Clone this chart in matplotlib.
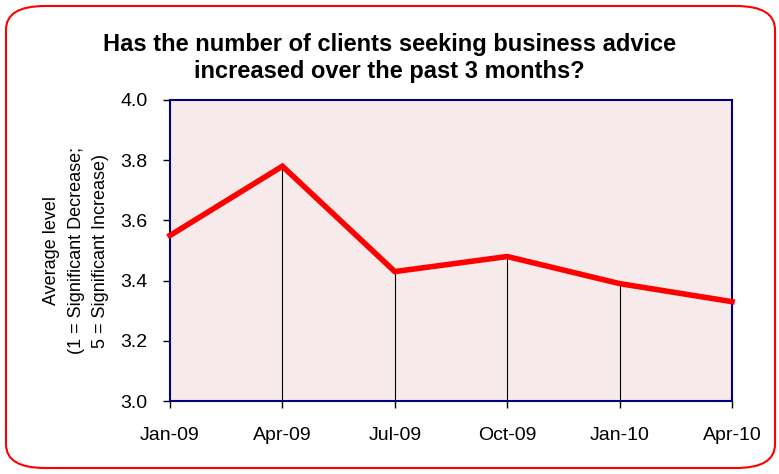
import matplotlib.pyplot as plt
from matplotlib.patches import FancyBboxPatch

plt.rcParams['font.family'] = ['Liberation Sans', 'DejaVu Sans']

# data
months = ["Jan-09", "Apr-09", "Jul-09", "Oct-09", "Jan-10", "Apr-10"]
avg_level = [3.55, 3.78, 3.43, 3.48, 3.39, 3.33]
y_ticks = [3.0, 3.2, 3.4, 3.6, 3.8, 4.0]

fig = plt.figure(figsize=(7.79, 4.74), dpi=100)

# rounded red border round the whole chart
border = FancyBboxPatch((6 / 779, 6 / 474), 769 / 779, 462 / 474,
                        boxstyle="round,pad=0,rounding_size=0.05",
                        transform=fig.transFigure, facecolor="white",
                        edgecolor="#FF0000", linewidth=1.5, zorder=-5)
fig.patches.append(border)

ax = fig.add_axes([170 / 779, 1 - 401 / 474, 562 / 779, 301 / 474])
ax.set_zorder(2)
ax.set_facecolor("#F7EAEA")

x = list(range(len(months)))
ax.vlines(x[1:], 3.0, avg_level[1:], color="black", linewidth=0.8, zorder=2)
ax.plot(x, avg_level, color="#FF0000", linewidth=4, solid_joinstyle="miter", zorder=3, clip_on=False)

ax.set_xlim(0, 5)
ax.set_ylim(3.0, 4.0)
ax.set_xticks(x)
ax.set_xticklabels(months)
ax.set_yticks(y_ticks)
ax.set_yticklabels([f"{v:.1f}" for v in y_ticks])
ax.tick_params(axis="both", labelsize=14, colors="black", length=5, width=1, direction="out")
ax.tick_params(axis="x", pad=14)
ax.tick_params(axis="y", pad=11)

for side in ax.spines.values():
    side.set_color("#000080")
    side.set_linewidth(1.5)

ax.set_ylabel("Average level\n(1 = Significant Decrease;\n5 = Significant Increase)",
              fontsize=13, labelpad=8, linespacing=1.6)

fig.text(0.5, 1 - 58 / 474,
         "Has the number of clients seeking business advice\nincreased over the past 3 months?",
         ha="center", va="center", fontsize=17, fontweight="bold", linespacing=1.25)

fig.savefig("out.png", dpi=100)
